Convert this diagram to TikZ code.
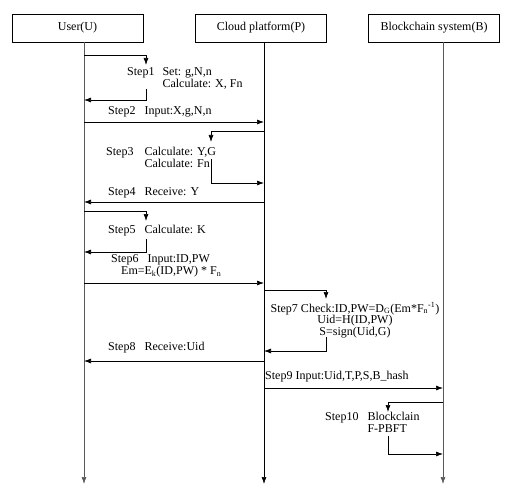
\documentclass[tikz,border=0pt]{standalone}
\usepackage{fontspec}
\setmainfont{Liberation Serif}
\usetikzlibrary{arrows.meta}
\begin{document}
\begin{tikzpicture}[
        x=1pt, y=-1pt,
        font=\fontsize{12}{12}\selectfont,
        header/.style={draw, line width=0.8pt, minimum width=131pt, minimum height=28pt, inner sep=0pt},
        msg/.style={line width=0.7pt, -{Latex[length=7pt,width=5pt]}},
        life/.style={msg, black!65},
        steptext/.style={anchor=west, inner sep=0pt, align=left}
    ]
        \useasboundingbox (0,0) rectangle (521,497);

        % participants
        \node[header] (user) at (77.5,28) {User(U)};
        \node[header] (cloud) at (261,28) {Cloud platform(P)};
        \node[header] (chain) at (434,28) {Blockchain system(B)};

        \coordinate (uTop) at (84,42);
        \coordinate (pTop) at (264,42);
        \coordinate (bTop) at (443,42);
        \coordinate (uEnd) at (84,484);
        \coordinate (pEnd) at (264,484);
        \coordinate (bEnd) at (443,484);

        \draw[life] (uTop) -- (uEnd);
        \draw[msg] (pTop) -- (pEnd);
        \draw[life] (bTop) -- (bEnd);

        % step 1
        \node[steptext] (s1) at (127,79)
            {\begin{tabular}{@{}l@{\hspace{8pt}}l@{}}Step1 & Set: g,N,n\\ & Calculate: X, Fn\end{tabular}};
        \draw[msg] (uTop |- 0,55) -| (146,65);
        \draw[msg] (146,89) |- (uTop |- 0,100);

        % step 2
        \node[steptext] (s2) at (108,112) {Step2 \enspace Input:X,g,N,n};
        \draw[msg] (uTop |- 0,122) -- (pTop |- 0,122);

        % step 3
        \node[steptext] (s3) at (106,159)
            {\begin{tabular}{@{}l@{\hspace{11pt}}l@{}}Step3 & Calculate: Y,G\\ & Calculate: Fn\end{tabular}};
        \draw[msg] (pTop |- 0,131) -| (211,142);
        \draw[msg] (211,159) |- (pTop |- 0,183);

        % step 4
        \node[steptext] (s4) at (108,193) {Step4 \enspace Receive: Y};
        \draw[msg] (pTop |- 0,202) -- (uTop |- 0,202);

        % step 5
        \node[steptext] (s5) at (108,231) {Step5 \enspace Calculate: K};
        \draw[msg] (uTop |- 0,211) -| (146,221);
        \draw[msg] (146,239) |- (uTop |- 0,252);

        % step 6
        \node[steptext] (s6) at (111,266)
            {Step6 \enspace Input:ID,PW\\
             \hspace{10pt}Em=E\textsubscript{k}(ID,PW) * F\textsubscript{n}};
        \draw[msg] (uTop |- 0,283) -- (pTop |- 0,283);

        % step 7
        \node[inner sep=0pt, align=center, font=\fontsize{12}{11.5}\selectfont] (s7) at (355,320)
            {Step7 Check:ID,PW=D\textsubscript{G}(Em*F\textsubscript{n}\textsuperscript{-1})\\
             Uid=H(ID,PW)\\
             S=sign(Uid,G)};
        \draw[msg] (pTop |- 0,290) -| (326,299);
        \draw[msg] (326,337) |- (pTop |- 0,351);

        % step 8
        \node[steptext] (s8) at (108,348) {Step8 \enspace Receive:Uid};
        \draw[msg] (pTop |- 0,361) -- (uTop |- 0,361);

        % step 9
        \node[steptext] (s9) at (265,377) {Step9 Input:Uid,T,P,S,B\_hash};
        \draw[msg] (pTop |- 0,388) -- (bTop |- 0,388);

        % step 10
        \node[steptext] (s10) at (325,424)
            {\begin{tabular}{@{}l@{\hspace{9pt}}l@{}}Step10 & Blockclain\\ & F-PBFT\end{tabular}};
        \draw[msg] (bTop |- 0,402) -| (388,412);
        \draw[msg] (388,436) |- (bTop |- 0,454);
    \end{tikzpicture}
\end{document}
